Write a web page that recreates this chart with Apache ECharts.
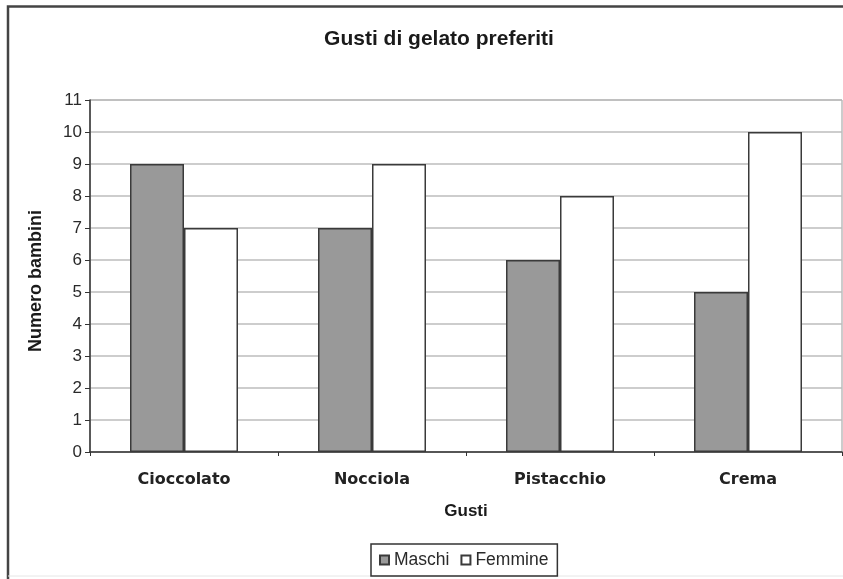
<!DOCTYPE html>
<html>
<head>
<meta charset="utf-8">
<script src="https://cdn.jsdelivr.net/npm/echarts@6/dist/echarts.min.js"></script>
<style>
  html, body { margin: 0; padding: 0; background: #fff; }
  #chart { width: 843px; height: 579px; }
</style>
</head>
<body>
<div id="chart"></div>
<script>
// Gusti di gelato preferiti: bambini per gusto, maschi e femmine
const gusti = ['Cioccolato', 'Nocciola', 'Pistacchio', 'Crema'];
const maschi = [9, 7, 6, 5];
const femmine = [7, 9, 8, 10];
const yTicks = [0, 1, 2, 3, 4, 5, 6, 7, 8, 9, 10, 11];

const chart = echarts.init(document.getElementById('chart'), null, { renderer: 'canvas' });

const sans = '"Liberation Sans", Arial, sans-serif';
const barBorder = { borderColor: '#3a3a3a', borderWidth: 1.5 };

chart.setOption({
  backgroundColor: '#fff',
  animation: false,
  title: {
    text: 'Gusti di gelato preferiti',
    left: 434,
    textAlign: 'center',
    top: 24,
    textStyle: { fontFamily: sans, fontSize: 21, fontWeight: 'bold', color: '#1a1a1a' }
  },
  legend: {
    left: 371,
    bottom: 3,
    itemWidth: 9,
    itemHeight: 9,
    itemGap: 11,
    padding: [7, 9, 7, 8],
    borderColor: '#333',
    borderWidth: 1.5,
    borderRadius: 0,
    icon: 'rect',
    textStyle: { fontFamily: sans, fontSize: 17.5, color: '#2a2a2a' },
    data: ['Maschi', 'Femmine']
  },
  grid: {
    left: 90, right: 1, top: 100, bottom: 127,
    show: true,
    borderColor: '#999',
    borderWidth: 1
  },
  xAxis: {
    type: 'category',
    data: gusti,
    name: 'Gusti',
    nameLocation: 'middle',
    nameGap: 51,
    nameTextStyle: { fontFamily: sans, fontSize: 17, fontWeight: 'bold', color: '#1a1a1a' },
    axisLine: { lineStyle: { color: '#333', width: 1.5 } },
    axisTick: { show: true, length: 4, lineStyle: { color: '#333' } },
    axisLabel: { margin: 20, fontFamily: '"DejaVu Sans", Verdana, sans-serif', fontSize: 16, fontWeight: 'bold', color: '#222' },
    splitLine: { show: false }
  },
  yAxis: {
    type: 'value',
    min: yTicks[0],
    max: yTicks[yTicks.length - 1],
    interval: 1,
    name: 'Numero bambini',
    nameLocation: 'middle',
    nameGap: 45,
    nameTextStyle: { fontFamily: sans, fontSize: 18, fontWeight: 'bold', color: '#1a1a1a', padding: [0, 10, 0, 0] },
    axisLine: { show: true, lineStyle: { color: '#333', width: 1.5 } },
    axisTick: { show: true, length: 5, lineStyle: { color: '#333' } },
    axisLabel: { margin: 8, fontFamily: sans, fontSize: 17, color: '#2a2a2a' },
    splitLine: { show: true, lineStyle: { color: '#bdbdbd', width: 1.5 } }
  },
  graphic: [
    { type: 'polyline', shape: { points: [[8, 579], [8, 6.5], [843, 6.5]] }, style: { stroke: '#444', lineWidth: 2.5, fill: null }, silent: true },
    { type: 'line', shape: { x1: 8, y1: 576, x2: 843, y2: 576 }, style: { stroke: '#e6e6e6', lineWidth: 1 }, silent: true }
  ],
  series: [
    {
      name: 'Maschi',
      type: 'bar',
      data: maschi,
      barWidth: 54,
      barGap: '0%',
      itemStyle: Object.assign({ color: '#999999' }, barBorder)
    },
    {
      name: 'Femmine',
      type: 'bar',
      data: femmine,
      barWidth: 54,
      barGap: '0%',
      itemStyle: Object.assign({ color: '#ffffff' }, barBorder)
    }
  ]
});
</script>
</body>
</html>
